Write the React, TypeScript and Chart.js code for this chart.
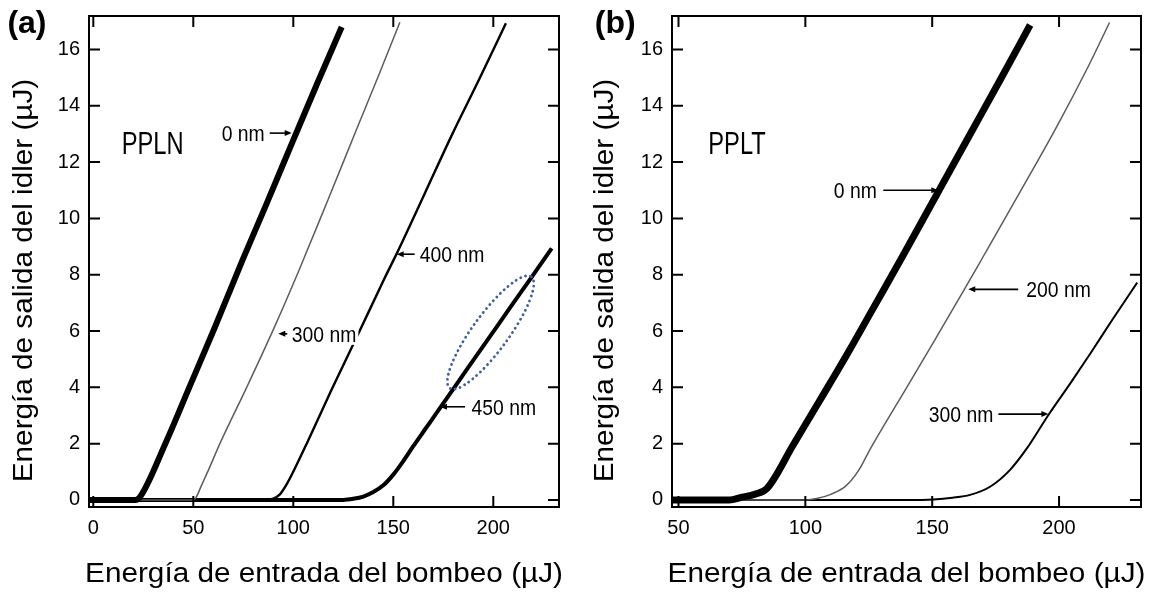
import React, { useEffect, useRef } from "react";
import { Chart, registerables } from "chart.js";

Chart.register(...registerables);

type Pt = [number, number];

// ---------- shared axis data ----------
const Y_TICKS = [0, 2, 4, 6, 8, 10, 12, 14, 16];
const X_TICKS_A = [0, 50, 100, 150, 200];
const X_TICKS_B = [50, 100, 150, 200];
const Y_MIN = -0.25;
const Y_MAX = 17.19;
const X_RANGE_A = [-2.15, 232.85];
const X_RANGE_B = [47.44, 232.3];

const X_TITLE = "Energía de entrada del bombeo (µJ)";
const Y_TITLE = "Energía de salida del idler (µJ)";

// ---------- panel (a) PPLN ----------
const PPLN_0NM: Pt[] = [
  [-2, 0], [21, 0], [23.3, 0.1], [36, 2], [48, 4], [60, 6], [74.5, 8.5],
  [86.5, 10.5], [99.5, 12.7], [112, 14.8], [124.2, 16.8],
];
const PPLN_300NM: Pt[] = [
  [-2, 0], [49, 0], [51, 0.05], [54, 0.5], [57.5, 1.05], [63.3, 2], [76.7, 4],
  [90, 6.05], [102.5, 8.1], [117, 10.6], [131.5, 13.14], [142.5, 15.05], [153.3, 16.97],
];
const PPLN_400NM: Pt[] = [
  [-2, 0], [85, 0], [90, 0.05], [93.3, 0.2], [97, 0.6], [101, 1.15], [106.7, 2],
  [119, 3.9], [132.5, 5.9], [145.8, 7.9], [151.7, 8.75], [165.5, 10.85], [179.2, 12.95],
  [193, 14.95], [206.3, 16.93],
];
const PPLN_450NM: Pt[] = [
  [-2, 0], [125, 0], [130, 0.04], [135, 0.12], [140, 0.28], [145, 0.52],
  [150, 0.9], [155, 1.38], [160, 1.91], [166, 2.52], [173.3, 3.26], [186.7, 4.63],
  [196.7, 5.64], [208.3, 6.82], [219, 7.9], [229.2, 8.94],
];

// ---------- panel (b) PPLT ----------
const PPLT_0NM: Pt[] = [
  [47, 0], [70, 0], [75, 0.1], [80, 0.2], [84.8, 0.4], [95.2, 1.95], [105.8, 3.55],
  [116.3, 5.15], [127, 6.85], [138, 8.6], [151.8, 10.85], [165, 13.0], [177, 14.95],
  [188.6, 16.87],
];
const PPLT_200NM: Pt[] = [
  [47, 0], [100, 0], [104.5, 0.05], [110, 0.2], [116, 0.5], [121, 1.05],
  [125.5, 1.8], [131, 2.65], [138.7, 3.8], [151.8, 5.8], [162.5, 7.45], [169.5, 8.55],
  [184.7, 10.95], [199.1, 13.26], [211.8, 15.45], [219.9, 16.96],
];
const PPLT_300NM: Pt[] = [
  [47, 0], [140, 0], [150.5, 0.02], [158, 0.08], [164.9, 0.18], [172.8, 0.47],
  [180.7, 1.07], [187.3, 1.83], [195.8, 3.02], [204.5, 4.15], [212.4, 5.21],
  [221, 6.4], [230.8, 7.72],
];

// ---------- annotations (arrow tips in data units) ----------
type Annot = { text: string; x: number; y: number; dir: "left" | "right"; len: number; gap: number };
const ANNOT_A: Annot[] = [
  { text: "0 nm", x: 99.2, y: 13.03, dir: "right", len: 22, gap: 5 },
  { text: "300 nm", x: 92.5, y: 5.9, dir: "left", len: 9, gap: 4.5 },
  { text: "400 nm", x: 151.7, y: 8.73, dir: "left", len: 18, gap: 5 },
  { text: "450 nm", x: 173.35, y: 3.31, dir: "left", len: 25, gap: 6.5 },
];
const ANNOT_B: Annot[] = [
  { text: "0 nm", x: 152.4, y: 11.0, dir: "right", len: 55, gap: 6.5 },
  { text: "200 nm", x: 164.2, y: 7.48, dir: "left", len: 50, gap: 8 },
  { text: "300 nm", x: 195.8, y: 3.05, dir: "right", len: 50, gap: 5 },
];
// dotted ellipse endpoints (data units) in panel (a)
const ELLIPSE_A = { x1: 178.3, y1: 3.97, x2: 219, y2: 7.93 };

const FONT = "'Liberation Sans', Arial, sans-serif";

type Series = { label: string; pts: Pt[]; color: string; width: number };
type PanelCfg = {
  letter: string;
  letterX: number;
  material: string;
  materialAt: Pt;
  xRange: number[];
  xTicks: number[];
  yWidth: number;
  padRight: number;
  yTitleX: number;
  series: Series[];
  annots: Annot[];
  ellipse?: { x1: number; y1: number; x2: number; y2: number };
};

function drawText(ctx: CanvasRenderingContext2D, text: string, x: number, y: number, font: string, sx: number, align: CanvasTextAlign) {
  ctx.save();
  ctx.font = font;
  ctx.textBaseline = "alphabetic";
  ctx.textAlign = align;
  ctx.translate(x, y);
  ctx.scale(sx, 1);
  ctx.fillText(text, 0, 0);
  ctx.restore();
}

function arrow(ctx: CanvasRenderingContext2D, x1: number, y1: number, x2: number, y2: number) {
  const ang = Math.atan2(y2 - y1, x2 - x1);
  const hl = 7, hw = 3;
  ctx.beginPath();
  ctx.moveTo(x1, y1);
  ctx.lineTo(x2 - Math.cos(ang) * hl * 0.7, y2 - Math.sin(ang) * hl * 0.7);
  ctx.lineWidth = 1.6;
  ctx.strokeStyle = "#000";
  ctx.stroke();
  ctx.beginPath();
  ctx.moveTo(x2, y2);
  ctx.lineTo(x2 - Math.cos(ang) * hl - Math.sin(ang) * hw, y2 - Math.sin(ang) * hl + Math.cos(ang) * hw);
  ctx.lineTo(x2 - Math.cos(ang) * hl + Math.sin(ang) * hw, y2 - Math.sin(ang) * hl - Math.cos(ang) * hw);
  ctx.closePath();
  ctx.fillStyle = "#000";
  ctx.fill();
}

function makePlugin(cfg: PanelCfg) {
  return {
    id: "decor",
    afterDraw(chart: any) {
      const ctx: CanvasRenderingContext2D = chart.ctx;
      const { left, right, top, bottom } = chart.chartArea;
      const xs = chart.scales.x;
      const ys = chart.scales.y;
      ctx.save();

      if (cfg.ellipse) {
        const e = cfg.ellipse;
        const p1x = xs.getPixelForValue(e.x1), p1y = ys.getPixelForValue(e.y1);
        const p2x = xs.getPixelForValue(e.x2), p2y = ys.getPixelForValue(e.y2);
        const cx = (p1x + p2x) / 2, cy = (p1y + p2y) / 2;
        const a = Math.hypot(p2x - p1x, p2y - p1y) / 2;
        const rot = Math.atan2(p2y - p1y, p2x - p1x);
        ctx.save();
        ctx.setLineDash([0.1, 5]);
        ctx.lineCap = "round";
        ctx.lineWidth = 2.8;
        ctx.strokeStyle = "#3f5f9e";
        ctx.beginPath();
        ctx.ellipse(cx, cy, a, 18, rot, 0, Math.PI * 2);
        ctx.stroke();
        ctx.restore();
      }

      const annFont = `22px ${FONT}`;
      const annSx = 0.88;
      for (const an of cfg.annots) {
        const tx = xs.getPixelForValue(an.x);
        const ty = ys.getPixelForValue(an.y);
        ctx.font = annFont;
        const w = ctx.measureText(an.text).width * annSx;
        let textLeft: number;
        let tail: number;
        if (an.dir === "left") {
          tail = tx + an.len;
          textLeft = tail + an.gap;
        } else {
          tail = tx - an.len;
          textLeft = tail - an.gap - w;
        }
        ctx.fillStyle = "#fff";
        ctx.fillRect(textLeft - 2, ty - 11, w + 4, 22);
        ctx.fillStyle = "#000";
        drawText(ctx, an.text, textLeft, ty + 8, annFont, annSx, "left");
        arrow(ctx, tail, ty, tx, ty);
      }

      ctx.fillStyle = "#000";
      drawText(
        ctx,
        cfg.material,
        xs.getPixelForValue(cfg.materialAt[0]),
        ys.getPixelForValue(cfg.materialAt[1]),
        `32px ${FONT}`,
        0.74,
        "left"
      );

      ctx.strokeStyle = "#000";
      ctx.lineWidth = 2;
      ctx.setLineDash([]);
      ctx.strokeRect(left, top, right - left, bottom - top);
      const TL = 11;
      ctx.beginPath();
      for (const v of cfg.xTicks) {
        const px = xs.getPixelForValue(v);
        ctx.moveTo(px, bottom);
        ctx.lineTo(px, bottom - TL);
        ctx.moveTo(px, top);
        ctx.lineTo(px, top + TL);
      }
      for (const v of Y_TICKS) {
        const py = ys.getPixelForValue(v);
        ctx.moveTo(left, py);
        ctx.lineTo(left + TL, py);
        ctx.moveTo(right, py);
        ctx.lineTo(right - TL, py);
      }
      ctx.stroke();

      ctx.fillStyle = "#000";
      drawText(ctx, X_TITLE, (left + right) / 2, 581.7, `27px ${FONT}`, 1.1, "center");
      ctx.save();
      ctx.translate(cfg.yTitleX, 280.5);
      ctx.rotate(-Math.PI / 2);
      drawText(ctx, Y_TITLE, 0, 0, `27px ${FONT}`, 1.1, "center");
      ctx.restore();

      drawText(ctx, cfg.letter, cfg.letterX, 33.3, `bold 32px ${FONT}`, 1, "left");

      ctx.restore();
    },
  };
}

function Panel({ cfg }: { cfg: PanelCfg }) {
  const ref = useRef<HTMLCanvasElement | null>(null);
  useEffect(() => {
    if (!ref.current) return;
    const tickFont = { family: FONT, size: 20 };
    const chart = new Chart(ref.current, {
      type: "line",
      data: {
        datasets: cfg.series.map((s) => ({
          label: s.label,
          data: s.pts.map(([x, y]) => ({ x, y })),
          borderColor: s.color,
          borderWidth: s.width,
          pointRadius: 0,
          fill: false,
          cubicInterpolationMode: "monotone" as const,
          borderJoinStyle: "round" as const,
        })),
      },
      options: {
        responsive: false,
        devicePixelRatio: 1,
        animation: false,
        events: [],
        layout: { padding: { left: 0, right: cfg.padRight, top: 16, bottom: 0 } },
        plugins: { legend: { display: false }, tooltip: { enabled: false } },
        scales: {
          x: {
            type: "linear",
            min: cfg.xRange[0],
            max: cfg.xRange[1],
            grid: { display: false, drawTicks: false },
            border: { display: false },
            ticks: { font: tickFont, color: "#000", padding: 9, maxRotation: 0, autoSkip: false, callback: (v: any) => String(v) },
            afterBuildTicks: (s: any) => {
              s.ticks = cfg.xTicks.map((v) => ({ value: v }));
            },
            afterFit: (s: any) => {
              s.height = 88;
              s.paddingLeft = 0;
              s.paddingRight = 0;
            },
          },
          y: {
            type: "linear",
            min: Y_MIN,
            max: Y_MAX,
            grid: { display: false, drawTicks: false },
            border: { display: false },
            ticks: { font: tickFont, color: "#000", padding: 9, autoSkip: false, callback: (v: any) => String(v) },
            afterBuildTicks: (s: any) => {
              s.ticks = Y_TICKS.map((v) => ({ value: v }));
            },
            afterFit: (s: any) => {
              s.width = cfg.yWidth;
              s.paddingTop = 0;
              s.paddingBottom = 0;
            },
          },
        },
      },
      plugins: [makePlugin(cfg)],
    } as any);
    return () => chart.destroy();
  }, [cfg]);
  return <canvas ref={ref} width={579} height={595} style={{ display: "block", width: 579, height: 595 }} />;
}

const GRAY = "#5c5c5c";

const PANEL_A: PanelCfg = {
  letter: "(a)",
  letterX: 7.4,
  material: "PPLN",
  materialAt: [14.2, 12.28],
  xRange: X_RANGE_A,
  xTicks: X_TICKS_A,
  yWidth: 89,
  padRight: 20,
  yTitleX: 32,
  series: [
    { label: "0 nm", pts: PPLN_0NM, color: "#000", width: 6 },
    { label: "300 nm", pts: PPLN_300NM, color: GRAY, width: 1.5 },
    { label: "400 nm", pts: PPLN_400NM, color: "#000", width: 2.4 },
    { label: "450 nm", pts: PPLN_450NM, color: "#000", width: 4 },
  ],
  annots: ANNOT_A,
  ellipse: ELLIPSE_A,
};

const PANEL_B: PanelCfg = {
  letter: "(b)",
  letterX: 15.8,
  material: "PPLT",
  materialAt: [61.75, 12.28],
  xRange: X_RANGE_B,
  xTicks: X_TICKS_B,
  yWidth: 93,
  padRight: 17,
  yTitleX: 34,
  series: [
    { label: "0 nm", pts: PPLT_0NM, color: "#000", width: 7 },
    { label: "200 nm", pts: PPLT_200NM, color: GRAY, width: 1.5 },
    { label: "300 nm", pts: PPLT_300NM, color: "#000", width: 2 },
  ],
  annots: ANNOT_B,
};

export default function App() {
  return (
    <div style={{ position: "fixed", left: 0, top: 0, width: 1158, height: 595, background: "#fff", display: "flex" }}>
      <Panel cfg={PANEL_A} />
      <Panel cfg={PANEL_B} />
    </div>
  );
}
